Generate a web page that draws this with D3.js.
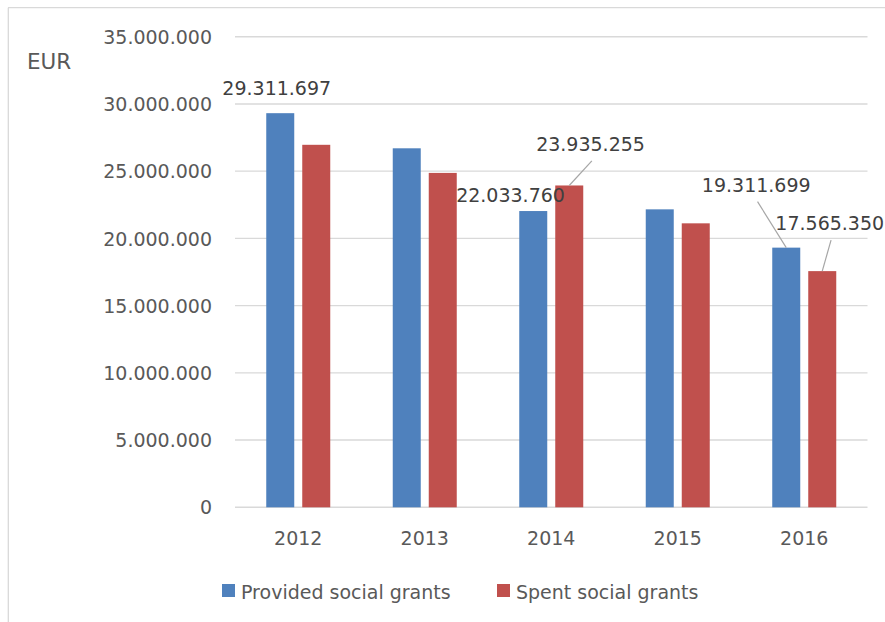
<!DOCTYPE html>
<html>
<head>
<meta charset="utf-8">
<script src="https://cdn.jsdelivr.net/npm/d3@7"></script>
<style>
  html, body { margin: 0; padding: 0; background: #ffffff; }
  svg { display: block; }
  text { font-family: "DejaVu Sans", sans-serif; }
</style>
</head>
<body>
<svg id="chart" width="885" height="622"></svg>
<script>
// ---- data ----
const years = ["2012", "2013", "2014", "2015", "2016"];
const seriesNames = ["Provided social grants", "Spent social grants"];
const provided = [29311697, 26700000, 22033760, 22160000, 19311699];
const spent = [26960000, 24870000, 23935255, 21120000, 17565350];
const yTicks = [0, 5000000, 10000000, 15000000, 20000000, 25000000, 30000000, 35000000];
const unitLabel = "EUR";
// which bars carry a data label: [seriesIndex, yearIndex]
const labelledBars = [[0, 0], [0, 2], [1, 2], [0, 4], [1, 4]];

// ---- style / layout ----
const colors = ["#4F81BD", "#C0504D"];
const gridColor = "#d9d9d9";
const tickColor = "#595959";
const labelColor = "#404040";
const fontSize = 19;
// label offsets (dx from bar centre, dy of baseline from bar top), leader flag
const labelLayout = [
  { dx: -3.5, dy: -18, leader: false },
  { dx: -22.7, dy: -9, leader: false },
  { dx: 21.3, dy: -34.6, leader: true },
  { dx: -30, dy: -56, leader: true },
  { dx: 7.5, dy: -41, leader: true }
];

const svg = d3.select("#chart");

// frame (top + left border)
svg.append("line").attr("x1", 8).attr("x2", 885).attr("y1", 7.7).attr("y2", 7.7)
  .attr("stroke", gridColor).attr("stroke-width", 1.3);
svg.append("line").attr("x1", 8.3).attr("x2", 8.3).attr("y1", 7.7).attr("y2", 622)
  .attr("stroke", gridColor).attr("stroke-width", 1.3);

const y = d3.scaleLinear().domain([0, 35000000]).range([507.3, 36.7]);
const x0 = d3.scaleBand().domain(years).range([235, 867.5]).padding(0);
const groupW = 64;
const off = (x0.bandwidth() - groupW) / 2;
const x1 = d3.scaleBand().domain([0, 1]).range([off, off + groupW]).paddingInner(2 - 64 / 36).paddingOuter(0);

const loc = d3.formatLocale({ decimal: ",", thousands: ".", grouping: [3], currency: ["", ""] });
const fmt = loc.format(",.0f");

// gridlines
svg.append("g").selectAll("line").data(yTicks).join("line")
  .attr("x1", 235).attr("x2", 867.5)
  .attr("y1", d => y(d)).attr("y2", d => y(d))
  .attr("stroke", gridColor).attr("stroke-width", 1.4);

// y axis labels via d3 axis
const yAxis = d3.axisLeft(y).tickValues(yTicks).tickFormat(d => fmt(d)).tickSize(0).tickPadding(0);
const ga = svg.append("g").attr("transform", "translate(212,0)").call(yAxis);
ga.select(".domain").remove();
ga.selectAll("text").attr("fill", tickColor).style("font-size", fontSize + "px")
  .style("font-family", "DejaVu Sans").attr("x", 0).attr("dy", "0.35em");

// x axis labels
const xAxis = d3.axisBottom(x0).tickSize(0).tickPadding(0);
const gx = svg.append("g").attr("transform", "translate(0,545)").call(xAxis);
gx.select(".domain").remove();
gx.selectAll("text").attr("fill", tickColor).style("font-size", fontSize + "px")
  .style("font-family", "DejaVu Sans").attr("y", 0).attr("dy", 0);

// unit label
svg.append("text").attr("x", 27).attr("y", 69).attr("fill", tickColor)
  .style("font-size", "21.5px").text(unitLabel);

// bars
const series = [provided, spent];
series.forEach((vals, si) => {
  svg.append("g").selectAll("rect").data(vals).join("rect")
    .attr("x", (d, i) => x0(years[i]) + x1(si))
    .attr("width", x1.bandwidth())
    .attr("y", d => y(d))
    .attr("height", d => y(0) - y(d))
    .attr("fill", colors[si]);
});

// data labels
labelledBars.forEach(([si, yi], k) => {
  const v = series[si][yi];
  const cx = x0(years[yi]) + x1(si) + x1.bandwidth() / 2;
  const top = y(v);
  const L = labelLayout[k];
  const tx = cx + L.dx, ty = top + L.dy;
  if (L.leader) {
    svg.append("line").attr("x1", tx + 1.3).attr("y1", ty + 10)
      .attr("x2", cx).attr("y2", top)
      .attr("stroke", "#a6a6a6").attr("stroke-width", 1.2);
  }
  svg.append("text").attr("x", tx).attr("y", ty).attr("text-anchor", "middle")
    .attr("fill", labelColor).style("font-size", fontSize + "px").text(fmt(v));
});

// legend
const legendX = [222, 497];
seriesNames.forEach((name, i) => {
  svg.append("rect").attr("x", legendX[i]).attr("y", 584).attr("width", 13).attr("height", 13)
    .attr("fill", colors[i]);
  svg.append("text").attr("x", legendX[i] + 19).attr("y", 599).attr("fill", tickColor)
    .style("font-size", fontSize + "px").text(name);
});
</script>
</body>
</html>
